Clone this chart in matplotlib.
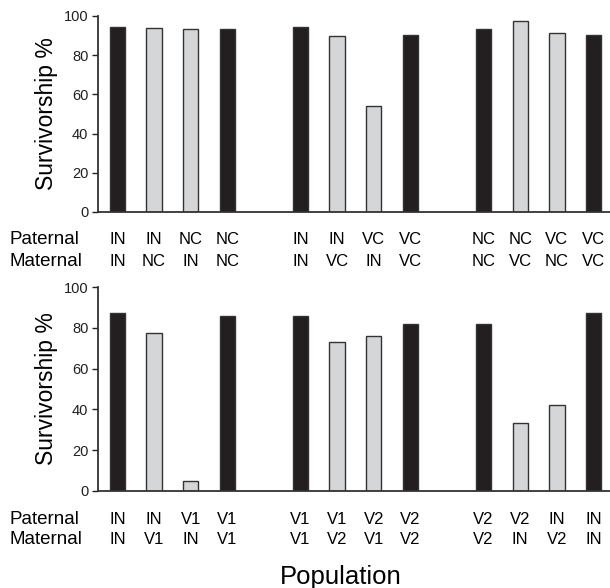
import matplotlib
matplotlib.use("Agg")
import matplotlib.pyplot as plt
from matplotlib.transforms import blended_transform_factory

plt.rcParams['font.family'] = ['Liberation Sans', 'DejaVu Sans']

# ---------------------------------------------------------
# DATA
# ---------------------------------------------------------
positions = [0, 1, 2, 3, 5, 6, 7, 8, 10, 11, 12, 13]

top_paternal = ["IN", "IN", "NC", "NC", "IN", "IN", "VC", "VC", "NC", "NC", "VC", "VC"]
top_maternal = ["IN", "NC", "IN", "NC", "IN", "VC", "IN", "VC", "NC", "VC", "NC", "VC"]
top_values = [94.5, 93.9, 93.5, 93.2, 94.5, 89.8, 54.1, 90.5, 93.2, 97.6, 91.5, 90.5]

bottom_paternal = ["IN", "IN", "V1", "V1", "V1", "V1", "V2", "V2", "V2", "V2", "IN", "IN"]
bottom_maternal = ["IN", "V1", "IN", "V1", "V1", "V2", "V1", "V2", "V2", "IN", "V2", "IN"]
bottom_values = [87.1, 77.6, 5.0, 85.8, 85.8, 73.2, 75.8, 81.7, 81.7, 33.2, 42.3, 87.1]

DARK = "#231f20"
LIGHT = "#d5d6d8"

fig = plt.figure(figsize=(6.10, 5.88), dpi=100)

ax_top = fig.add_axes([0.1607, 0.6395, 0.8393, 0.3333])
ax_bot = fig.add_axes([0.1607, 0.165, 0.8393, 0.3469])


def draw_panel(ax, values, paternal, maternal, y_pat, y_mat):
    colors = [DARK if p == m else LIGHT for p, m in zip(paternal, maternal)]
    ax.bar(positions, values, width=0.42, color=colors,
           edgecolor="#333333", linewidth=1.0)
    ax.set_xlim(-0.53, 13.45)
    ax.set_ylim(0, 100)
    ax.set_yticks([0, 20, 40, 60, 80, 100])
    ax.tick_params(axis="y", labelsize=10.5, length=4, width=1.0,
                   colors="#231f20", pad=3)
    ax.set_xticks([])
    for s in ["top", "right"]:
        ax.spines[s].set_visible(False)
    for s in ["left", "bottom"]:
        ax.spines[s].set_linewidth(1.3)
        ax.spines[s].set_color("#333333")
    ax.set_ylabel("Survivorship %", fontsize=16.5, labelpad=4)

    trans = blended_transform_factory(ax.transData, fig.transFigure)
    for x, p, m in zip(positions, paternal, maternal):
        ax.text(x, y_pat, p, transform=trans, ha="center", va="center",
                fontsize=12)
        ax.text(x, y_mat, m, transform=trans, ha="center", va="center",
                fontsize=12)
    fig.text(0.016, y_pat, "Paternal", ha="left", va="center", fontsize=13.5)
    fig.text(0.016, y_mat, "Maternal", ha="left", va="center", fontsize=13.5)


draw_panel(ax_top, top_values, top_paternal, top_maternal,
           1 - 240 / 588, 1 - 261 / 588)
draw_panel(ax_bot, bottom_values, bottom_paternal, bottom_maternal,
           1 - 520 / 588, 1 - 540 / 588)

fig.text(0.559, 1 - 577 / 588, "Population", ha="center", va="center",
         fontsize=18.5)

fig.savefig("out.png", dpi=100)
